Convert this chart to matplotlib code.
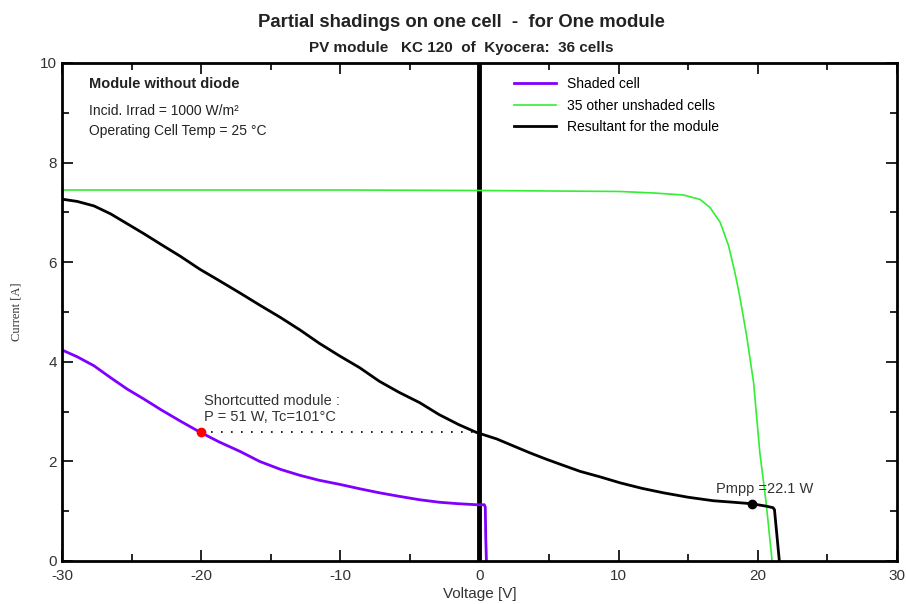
import matplotlib
matplotlib.use("Agg")
import matplotlib.pyplot as plt
from matplotlib.ticker import MultipleLocator

plt.rcParams['font.family'] = ['Liberation Sans', 'DejaVu Sans']
plt.rcParams['axes.unicode_minus'] = False

# curves
shaded_v = [-30.1, -28.9, -27.7, -26.5, -25.3, -24.1, -22.9, -21.5, -20.1, -18.7, -17.2,
            -15.8, -14.3, -12.9, -11.5, -10.06, -8.6, -7.2, -5.8, -4.3, -2.9, -1.5, -0.2,
            0.35, 0.42, 0.45, 0.5]
shaded_i = [4.25, 4.10, 3.92, 3.68, 3.45, 3.25, 3.04, 2.81, 2.59, 2.39, 2.20,
            2.00, 1.84, 1.72, 1.62, 1.54, 1.45, 1.37, 1.30, 1.23, 1.18, 1.15, 1.13,
            1.13, 1.08, 0.5, 0.0]

unshaded_v = [-30, -10, 0, 10.1, 12.5, 14.65, 15.85, 16.56, 17.3, 17.9, 18.36, 18.7,
              19.2, 19.7, 20.15, 20.6, 21.03]
unshaded_i = [7.45, 7.45, 7.44, 7.42, 7.39, 7.35, 7.26, 7.10, 6.80, 6.33, 5.79, 5.32,
              4.52, 3.58, 2.17, 1.17, 0.0]

module_v = [-30.1, -28.9, -27.7, -26.5, -25.3, -24.1, -22.9, -21.5, -20.1, -18.7, -17.2,
            -15.8, -14.3, -12.9, -11.5, -10.06, -8.6, -7.2, -5.8, -4.3, -2.9, -1.5, -0.2,
            1.25, 2.44, 3.64, 4.84, 6.03, 7.23, 8.66, 10.1, 11.66, 13.2, 15.0, 16.8, 18.23,
            19.55, 20.63, 21.1, 21.2, 21.55]
module_i = [7.27, 7.22, 7.13, 6.97, 6.77, 6.57, 6.36, 6.12, 5.86, 5.63, 5.38,
            5.14, 4.89, 4.64, 4.37, 4.12, 3.88, 3.61, 3.39, 3.18, 2.94, 2.74, 2.58,
            2.45, 2.31, 2.17, 2.04, 1.92, 1.80, 1.69, 1.57, 1.46, 1.37, 1.28, 1.21, 1.18,
            1.15, 1.10, 1.07, 1.03, 0.0]

short_v, short_i = -20, 2.59
mpp_v, mpp_i = 19.55, 1.15

fig = plt.figure(figsize=(9.06, 6.04), dpi=100)
ax = fig.add_axes([0.0684, 0.0712, 0.9216, 0.8245])

ax.plot(shaded_v, shaded_i, color='#8000ff', lw=2, label='Shaded cell')
ax.plot(unshaded_v, unshaded_i, color='#33ee33', lw=1.2, label='35 other unshaded cells')
ax.plot(module_v, module_i, color='black', lw=2, label='Resultant for the module')
ax.axvline(0, color='black', lw=3.5, zorder=1)

ax.plot([short_v, 0], [short_i, short_i], color='black', lw=1.2, ls=(0, (1, 5)))
ax.plot(short_v, short_i, 'o', color='red', ms=6)
ax.plot(mpp_v, mpp_i, 'o', color='black', ms=6)

ax.text(-19.8, 3.22, 'Shortcutted module :', fontsize=10.5, color='#333333', va='center')
ax.text(-19.8, 2.9, 'P = 51 W, Tc=101°C', fontsize=10.5, color='#333333', va='center')
ax.text(17.0, 1.45, 'Pmpp =22.1 W', fontsize=10.5, color='#333333', va='center')

ax.text(0.032, 0.957, 'Module without diode', transform=ax.transAxes, fontsize=10.5,
        fontweight='bold', color='#222222', va='center')
ax.text(0.032, 0.903, 'Incid. Irrad = 1000 W/m²', transform=ax.transAxes, fontsize=10,
        color='#222222', va='center')
ax.text(0.032, 0.863, 'Operating Cell Temp = 25 °C', transform=ax.transAxes, fontsize=10,
        color='#222222', va='center')

ax.legend(loc='upper left', bbox_to_anchor=(0.525, 1.0), frameon=False,
          handlelength=3.0, handletextpad=0.8, labelspacing=0.55, borderaxespad=0.6,
          prop={'size': 10})

ax.set_xlim(-30, 30)
ax.set_ylim(0, 10)
ax.xaxis.set_major_locator(MultipleLocator(10))
ax.xaxis.set_minor_locator(MultipleLocator(5))
ax.yaxis.set_major_locator(MultipleLocator(2))
ax.yaxis.set_minor_locator(MultipleLocator(1))
ax.tick_params(which='both', direction='in', top=True, right=True, width=1.2,
               labelsize=11, labelcolor='#333333')
ax.tick_params(which='major', length=8)
ax.tick_params(which='minor', length=5)
ax.tick_params(axis='x', pad=6)
for s in ax.spines.values():
    s.set_linewidth(2)

ax.set_xlabel('Voltage [V]', fontsize=11, color='#333333', labelpad=3)
ax.set_ylabel('Current [A]', fontsize=9, color='#333333', family='Liberation Serif', labelpad=13)

fig.text(0.509, 0.963, 'Partial shadings on one cell  -  for One module', ha='center',
         va='center', fontsize=13.3, fontweight='bold', color='#222222')
fig.text(0.509, 0.921, 'PV module   KC 120  of  Kyocera:  36 cells', ha='center',
         va='center', fontsize=11, fontweight='bold', color='#222222')

fig.savefig('out.png', dpi=100)
